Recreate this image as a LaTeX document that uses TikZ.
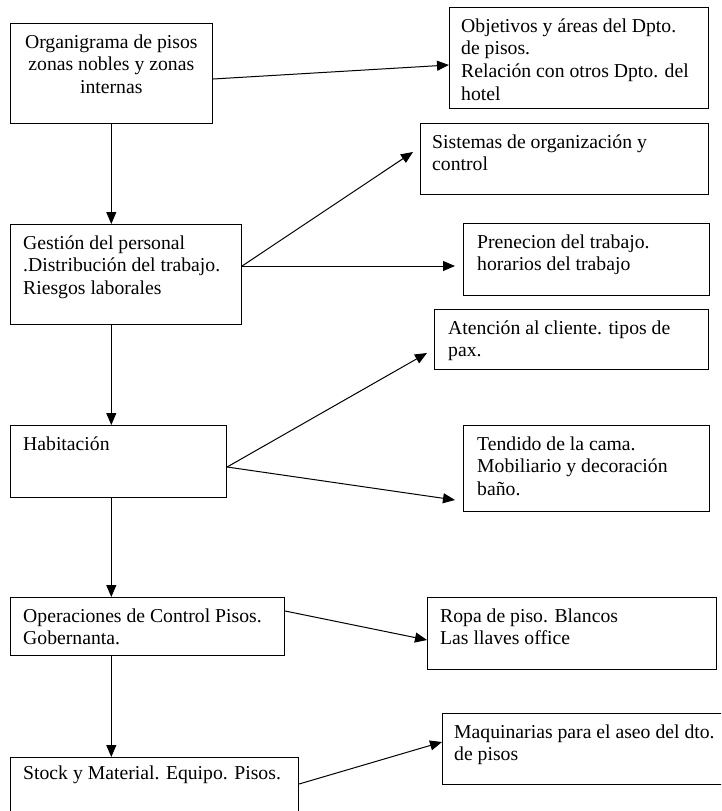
\documentclass[tikz,border=0pt]{standalone}
\usepackage{fontspec}
\setmainfont{Liberation Serif}
\usetikzlibrary{arrows.meta,calc}
\begin{document}
\begin{tikzpicture}[x=1pt,y=-1pt,
  box/.style={draw, line width=1.1pt, inner sep=0pt, anchor=north west},
  txt/.style={inner sep=0pt, anchor=north west, align=left, font=\fontsize{19.7}{22.7}\selectfont},
  conn/.style={line width=1pt, -{Triangle[length=12pt,width=10pt]}}]
\useasboundingbox (0,0) rectangle (721,811);
\clip (0,0) rectangle (721,811);
% left column boxes
\node[box, minimum width=202.5pt, minimum height=100pt] (b1) at (9.5,23) {};
\node[box, minimum width=231.5pt, minimum height=100pt] (b2) at (9.5,224) {};
\node[box, minimum width=216.5pt, minimum height=72pt] (b3) at (9.5,425) {};
\node[box, minimum width=274.5pt, minimum height=58pt] (b4) at (9.5,597) {};
\node[box, minimum width=288.5pt, minimum height=80pt] (b5) at (9.5,757) {};
% right column boxes
\node[box, minimum width=259pt, minimum height=101pt] (rA) at (449,7) {};
\node[box, minimum width=288pt, minimum height=71pt] (rB) at (420,123) {};
\node[box, minimum width=246pt, minimum height=72pt] (rC) at (463,223) {};
\node[box, minimum width=274pt, minimum height=60pt] (rD) at (434,309) {};
\node[box, minimum width=246pt, minimum height=86pt] (rE) at (463,425) {};
\node[box, minimum width=289pt, minimum height=72pt] (rF) at (427,597) {};
\node[box, minimum width=290pt, minimum height=71pt] (rG) at (442,713) {};
% texts
\node[txt, anchor=north, align=center] (t1) at ($(b1.north)+(0,9.1)$) {\strut Organigrama de pisos\\zonas nobles y zonas\\internas};
\node[txt] (t2) at ($(b2.north west)+(13.5,9.1)$) {\strut Gestión del personal\\.Distribución del trabajo.\\Riesgos laborales};
\node[txt] (t3) at ($(b3.north west)+(13.5,9.1)$) {\strut Habitación};
\node[txt] (t4) at ($(b4.north west)+(13.5,9.1)$) {\strut Operaciones de Control Pisos.\\Gobernanta.};
\node[txt] (t5) at ($(b5.north west)+(13.5,6.1)$) {\strut Stock y Material. Equipo. Pisos.};
\node[txt] (tA) at ($(rA.north west)+(12,9.1)$) {\strut Objetivos y áreas del Dpto.\\de pisos.\\Relación con otros Dpto. del\\hotel};
\node[txt] (tB) at ($(rB.north west)+(12,9.1)$) {\strut Sistemas de organización y\\control};
\node[txt] (tC) at ($(rC.north west)+(14,9.1)$) {\strut Prenecion del trabajo.\\horarios del trabajo};
\node[txt] (tD) at ($(rD.north west)+(14,9.1)$) {\strut Atención al cliente. tipos de\\pax.};
\node[txt] (tE) at ($(rE.north west)+(14,9.1)$) {\strut Tendido de la cama.\\Mobiliario y decoración\\baño.};
\node[txt] (tF) at ($(rF.north west)+(13,9.1)$) {\strut Ropa de piso. Blancos\\Las llaves office};
\node[txt] (tG) at ($(rG.north west)+(12,9.1)$) {\strut Maquinarias para el aseo del dto.\\de pisos};
% connectors
\draw[conn] ([yshift=-56pt]b1.north east) -- ([yshift=-58pt]rA.north west);
\draw[conn] (b1.south) -- (b1.south |- b2.north);
\draw[conn] ([yshift=-42pt]b2.north east) -- ([xshift=-7pt,yshift=-29pt]rB.north west);
\draw[conn] ([yshift=-42pt]b2.north east) -- ([xshift=-8pt,yshift=-43pt]rC.north west);
\draw[conn] (b1.south |- b2.south) -- (b1.south |- b3.north);
\draw[conn] ([yshift=-42pt]b3.north east) -- ([xshift=-7pt,yshift=-44pt]rD.north west);
\draw[conn] ([yshift=-42pt]b3.north east) -- ([xshift=-8pt,yshift=-75pt]rE.north west);
\draw[conn] (b1.south |- b3.south) -- (b1.south |- b4.north);
\draw[conn] ([yshift=-14pt]b4.north east) -- ([yshift=-43pt]rF.north west);
\draw[conn] (b1.south |- b4.south) -- (b1.south |- b5.north);
\draw[conn] ([yshift=-27pt]b5.north east) -- ([yshift=-29pt]rG.north west);
\end{tikzpicture}
\end{document}
